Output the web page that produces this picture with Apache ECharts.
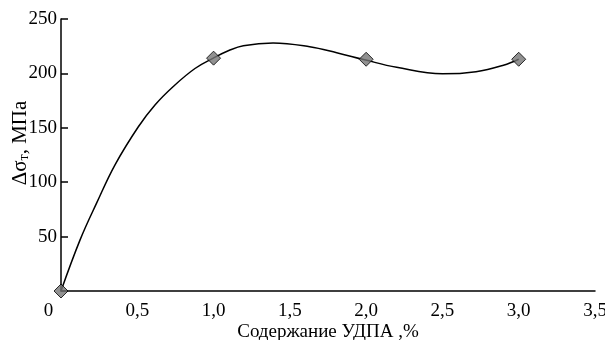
<!DOCTYPE html>
<html>
<head>
<meta charset="utf-8">
<script src="https://cdn.jsdelivr.net/npm/echarts@6/dist/echarts.min.js"></script>
<style>
  html, body { margin: 0; padding: 0; background: #fff; }
  #chart { width: 605px; height: 340px; }
</style>
</head>
<body>
<div id="chart"></div>
<script>
// measured points (УДПА %, МПа)
var pointX = [0, 1, 2, 3];
var pointY = [0, 214, 213, 213];

// trend curve
var curveX = [0, 0.125, 0.234, 0.354, 0.507, 0.616, 0.736, 0.878, 0.998, 1.1, 1.195, 1.39, 1.63, 1.807, 1.99, 2.2, 2.5, 2.72, 2.9, 3.0];
var curveY = [0, 47, 81, 116, 151, 171, 188, 204.5, 214, 221, 225.5, 228, 224.5, 219, 212.5, 205.6, 199.6, 201.6, 207.5, 213];

var xTicks = { min: 0, max: 3.5, step: 0.5 };
var yTicks = { min: 0, max: 250, step: 50 };

var myChart = echarts.init(document.getElementById('chart'));

var font = 'Liberation Serif';

var option = {
    animation: false,
    grid: { left: 61, right: 10, top: 19, bottom: 49, containLabel: false, outerBoundsMode: 'none' },
    xAxis: {
        type: 'value',
        min: xTicks.min, max: xTicks.max, interval: xTicks.step,
        name: 'Содержание УДПА ,%',
        nameLocation: 'middle',
        nameGap: 32,
        nameMoveOverlap: false,
        nameTextStyle: { fontFamily: font, fontSize: 19, color: '#000' },
        axisLine: { lineStyle: { color: '#000', width: 1.5 } },
        axisTick: { show: false },
        splitLine: { show: false },
        axisLabel: {
            margin: 11,
            fontFamily: font, fontSize: 19, color: '#000',
            formatter: function (v) {
                if (v === 0) return '{z|0}';
                return v.toFixed(1).replace('.', ',');
            },
            rich: { z: { fontFamily: font, fontSize: 19, color: '#000', padding: [0, 25, 0, 0] } }
        }
    },
    yAxis: {
        type: 'value',
        min: yTicks.min, max: yTicks.max, interval: yTicks.step,
        name: '{a|Δσ}{s|т}{a|, МПа}',
        nameLocation: 'middle',
        nameGap: 30,
        nameMoveOverlap: false,
        nameRotate: 90,
        nameTextStyle: {
            padding: [0, 0, 0, 24],
            rich: {
                a: { fontFamily: font, fontSize: 21, color: '#000' },
                s: { fontFamily: font, fontSize: 14, color: '#000', verticalAlign: 'bottom', padding: [8, 0, 0, 0] }
            }
        },
        axisLine: { show: true, lineStyle: { color: '#000', width: 1.5 } },
        axisTick: { show: true, inside: true, length: 7, lineStyle: { color: '#000', width: 1.5 } },
        splitLine: { show: false },
        axisLabel: {
            margin: 4,
            fontFamily: font, fontSize: 19, color: '#000',
            formatter: function (v) { return v === 0 ? '' : String(v); }
        }
    },
    series: [
        {
            type: 'line',
            data: curveX.map(function (x, i) { return [x, curveY[i]]; }),
            smooth: 0.4,
            showSymbol: false,
            lineStyle: { color: '#000', width: 1.5 },
            z: 2
        },
        {
            type: 'scatter',
            data: pointX.map(function (x, i) { return [x, pointY[i]]; }),
            symbol: 'diamond',
            symbolSize: [14, 14],
            clip: false,
            itemStyle: { color: '#767676', borderColor: '#000', borderWidth: 1 },
            z: 3
        }
    ]
};

myChart.setOption(option);
</script>
</body>
</html>
